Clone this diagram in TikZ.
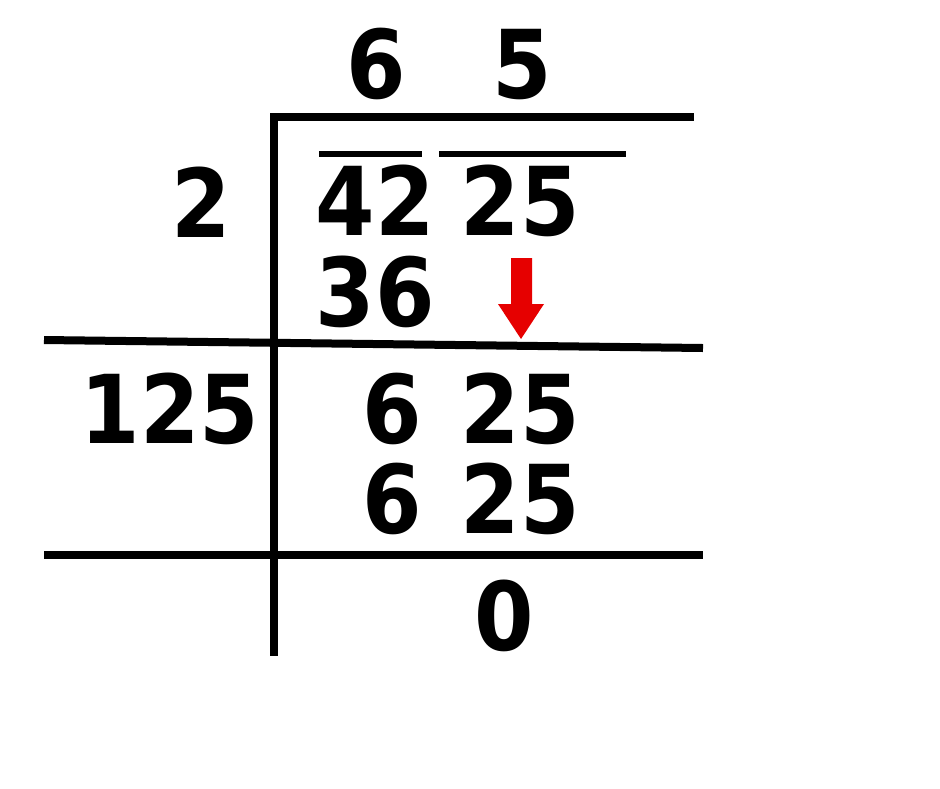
\documentclass[tikz,border=0pt]{standalone}
\usepackage{fontspec}
\setmainfont{DejaVu Sans Condensed}[BoldFont={DejaVu Sans Condensed Bold}]
\definecolor{arrowred}{HTML}{E60000}
\tikzset{
  num/.style={inner sep=0pt, anchor=base, font=\fontsize{95}{95}\selectfont\bfseries},
  rule/.style={line width=8pt},
  bar/.style={line width=5.5pt}
}
\begin{document}
\begin{tikzpicture}[x=1pt,y=-1pt]
\useasboundingbox[fill=white] (0,0) rectangle (940,788);
% quotient
\node[num] (q1) at (376,98) {6};
\node[num] (q2) at (522,98) {5};
% divisor column
\node[num] (d1) at (201,237) {2};
\node[num] (d2) at (170,443) {125};
% dividend
\node[num] (n1) at (375,235) {42};
\node[num] (n2) at (520,235) {25};
\node[num] (s1) at (375,326) {36};
\node[num] (r1a) at (392,443) {6};
\node[num] (r1b) at (520,443) {25};
\node[num] (r2a) at (392,533) {6};
\node[num] (r2b) at (520,533) {25};
\node[num] (z) at (504,650) {0};
% rules
\coordinate (vt) at (274,113);
\coordinate (vb) at (274,656);
\coordinate (tl) at (270,117);
\coordinate (tr) at (694,117);
\coordinate (ml) at (44,340);
\coordinate (mr) at (703,348);
\coordinate (bl) at (44,555);
\coordinate (br) at (703,555);
\draw[rule] (vt) -- (vb);
\draw[rule] (tl) -- (tr);
\draw[rule] (ml) -- (mr);
\draw[rule] (bl) -- (br);
% overbars
\coordinate (o1l) at (319,154);
\coordinate (o1r) at (422,154);
\coordinate (o2l) at (439,154);
\coordinate (o2r) at (626,154);
\draw[bar] (o1l) -- (o1r);
\draw[bar] (o2l) -- (o2r);
% red arrow
\fill[arrowred] (511,258) -- (532,258) -- (532,304) -- (544,304) -- (521,339) -- (498,304) -- (511,304) -- cycle;
\end{tikzpicture}
\end{document}
